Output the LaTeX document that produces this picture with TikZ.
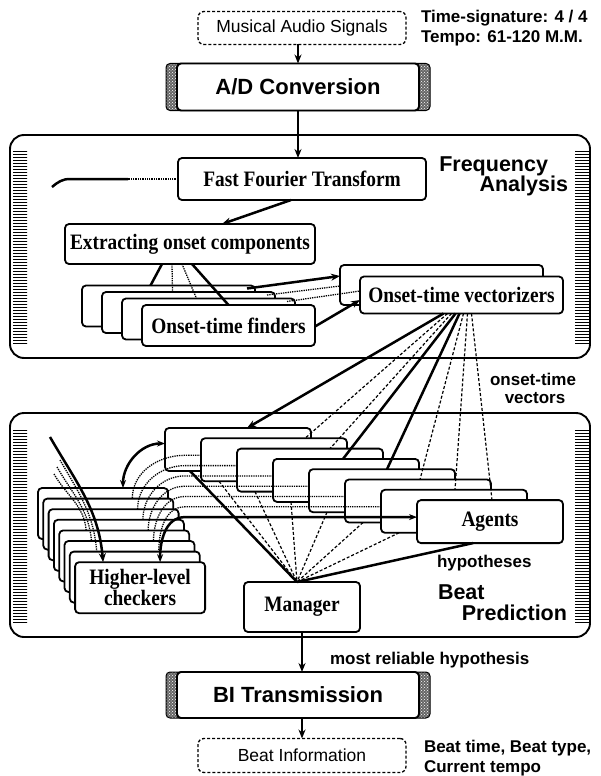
\documentclass[tikz,border=0pt]{standalone}
\usepackage{fontspec}
\setmainfont{Liberation Serif}
\setsansfont{Liberation Sans}
\newfontfamily\cserif[FakeStretch=0.88]{Liberation Serif}
\usetikzlibrary{arrows.meta,patterns,calc}
\newcommand\tsf{\cserif\bfseries\fontsize{22}{21}\selectfont}
\newcommand\hsf[1]{\sffamily\bfseries\fontsize{#1}{#1}\selectfont}
\newcommand\rsf[1]{\sffamily\fontsize{#1}{#1}\selectfont}
\begin{document}
\begin{tikzpicture}[x=1pt,y=-1pt,
  every node/.style={inner sep=0pt,outer sep=0pt},
  box/.style={draw,line width=1.8pt,rounded corners=4pt,fill=white,font=\tsf},
  dbox/.style={draw,line width=1.3pt,densely dashed,rounded corners=6pt,fill=white,font=\rsf{17.5}},
  hbox/.style={draw,line width=1.9pt,rounded corners=4pt,fill=white,font=\hsf{22}},
  hatchend/.style={draw,line width=1pt,rounded corners=4pt,preaction={fill=black!60},pattern=crosshatch dots,pattern color=white},
  panel/.style={draw,line width=1.9pt,rounded corners=14pt},
  band/.style={pattern=horizontal lines,pattern color=black},
  lab/.style={font=\hsf{17}},
  big/.style={font=\hsf{21.5}},
  conn/.style={line width=2.5pt},
  tip/.style={-{Stealth[length=9pt,width=7pt]}},
  arr/.style={line width=2.5pt,-{Stealth[length=9pt,width=7pt]}},
  darr/.style={line width=2.5pt,{Stealth[length=8pt,width=6pt]}-{Stealth[length=8pt,width=6pt]}},
  dotl/.style={line width=1.3pt,densely dotted},
  dashl/.style={line width=1.2pt,dash pattern=on 3pt off 2pt},
]
\useasboundingbox (0,0) rectangle (601,776);

% ---------- top ----------
\node[dbox,minimum width=208pt,minimum height=33pt] (ms) at (302,28) {Musical Audio Signals};
\node[lab,anchor=west] (ts) at (421,18.5) {Time-signature: 4 / 4};
\node[lab,anchor=west] (tp) at (421,38.5) {Tempo: 61-120 M.M.};
\node[hatchend,minimum width=264pt,minimum height=47pt] (adh) at (298,87) {};
\node[hbox,minimum width=242pt,minimum height=47pt] (ad) at (298,87) {A/D Conversion};
\draw[arr] (ms.south -| ad.north) -- (ad.north);

% ---------- frequency analysis panel ----------
\node[panel,minimum width=580pt,minimum height=223pt] (fa) at (300,246.5) {};
\fill[band] (13,150) rectangle (27,344);
\fill[band] (575,150) rectangle (589,344);
\node[big,anchor=east] (fq1) at (548,166) {Frequency};
\node[big,anchor=east] (fq2) at (568,186) {Analysis};

\node[box,minimum width=248pt,minimum height=42pt] (fft) at (302,179) {Fast Fourier Transform};
\node[box,minimum width=250pt,minimum height=40pt] (ext) at (190,244) {Extracting onset components};
\draw[arr] (ad.south) -- (ad.south |- fft.north);
\draw[arr] ([xshift=-11pt]fft.south) -- ([xshift=32pt]ext.north);
\draw[dotl] (fft.west) -- ++(-50,0) coordinate (hk1);
\coordinate (hk2) at (52,187);
\draw[conn] (hk1) -- (70,179) to[out=180,in=40] (hk2);

\foreach \j in {0,1,2}
  \node[box,minimum width=173pt,minimum height=41pt] (f\j) at ({168.5+20*\j},{306+6.5*\j}) {};
\node[box,minimum width=173pt,minimum height=41pt] (f3) at (228.5,325.5) {Onset-time finders};

\node[box,minimum width=203pt,minimum height=40pt] (v0) at (441.5,285) {};
\node[box,minimum width=203pt,minimum height=37pt] (v1) at (461.5,295) {Onset-time vectorizers};

\draw[conn] ([xshift=-28pt]ext.south) -- ([xshift=-18pt]f0.north);
\draw[dotl] ([xshift=-18pt]ext.south) -- ([xshift=-16pt]f1.north);
\draw[dotl] ([xshift=-8pt]ext.south) -- ([xshift=-12pt]f2.north);
\draw[conn] ([xshift=2pt]ext.south) -- (f3.north);

\draw[conn,tip] ([xshift=-8pt,yshift=-3pt]f0.north east) -- ([yshift=9pt]v0.west);
\draw[dotl] ([xshift=-8pt,yshift=-3pt]f1.north east) -- ([yshift=-1pt]v0.west);
\draw[dotl] ([xshift=-8pt,yshift=-3pt]f2.north east) -- ([yshift=4pt]v1.west);
\draw[conn,tip] ([yshift=-1pt]f3.east) -- ([yshift=-5pt]v1.west);

% ---------- beat prediction panel ----------
\node[panel,minimum width=580pt,minimum height=224pt] (bp) at (300,525) {};
\fill[band] (13,428) rectangle (27,622);
\fill[band] (575,428) rectangle (589,622);
\node[lab] (ov1) at (533,379) {onset-time};
\node[lab] (ov2) at (535,398) {vectors};
\node[lab,anchor=west] (hy) at (437,563) {hypotheses};
\node[big,anchor=west] (bp1) at (438,592) {Beat};
\node[big,anchor=east] (bp2) at (567,613) {Prediction};

\foreach \i in {0,...,6}
  \node[box,minimum width=146pt,minimum height=43pt] (a\i) at ({238+36*\i},{449.5+10.3*\i}) {};
\node[box,minimum width=146pt,minimum height=43pt] (a7) at (490,521.6) {Agents};

\node[box,minimum width=116pt,minimum height=50pt] (mg) at (302,607) {Manager};

\foreach \j in {0,...,6}
  \node[box,minimum width=130pt,minimum height=51pt] (c\j) at ({103+5.3*\j},{513.5+10.6*\j}) {};
\node[box,minimum width=130pt,minimum height=51pt,align=center] (c7) at (140.1,587.7) {Higher-level\\checkers};

% onset-time vectors
\draw[arr] ([xshift=-18pt]v1.south) -- ([xshift=82pt]a0.north west);
\draw[dashl] ([xshift=-14pt]v1.south) -- ([xshift=104pt]a1.north west);
\draw[dashl] ([xshift=-10pt]v1.south) -- ([xshift=93pt]a2.north west);
\draw[conn] ([xshift=-6pt]v1.south) -- ([xshift=70pt]a3.north west);
\draw[conn] ([xshift=-2pt]v1.south) -- ([xshift=78pt]a4.north west);
\draw[dashl] ([xshift=2pt]v1.south) -- ([xshift=75pt]a5.north west);
\draw[dashl] ([xshift=6pt]v1.south) -- ([xshift=74pt]a6.north west);
\draw[dashl] ([xshift=10pt]v1.south) -- ([xshift=75pt]a7.north west);

% agents -> manager
\coordinate (mc) at ([xshift=-5pt]mg.north);
\draw[conn] ([xshift=25pt]a0.south west) -- (mc);
\foreach \i in {1,...,6}
  \draw[dashl] ([xshift=18pt]a\i.south west) -- (mc);
\draw[conn] ([xshift=56pt]a7.south west) -- (mc);

% agents <-> higher-level checkers
\draw[darr] ([yshift=6pt]a0.west) to[out=180,in=90] ([xshift=20pt]c0.north);
\foreach \i in {1,...,6}
  \draw[dotl] ([yshift=4.5pt]a\i.west) -- ++({-(36*\i-20)},0) to[out=180,in=90] ([xshift=24pt]c\i.north);
\draw[darr] ([yshift=4.5pt]a7.west) -- ++(-232,0) to[out=180,in=90] ([xshift=20pt]c7.north);

% frequency input to checkers
\coordinate (lf) at (50,437);
\draw[arr] (lf) to[out=-60,in=95] ([xshift=-37pt]c7.north);
\foreach \k/\m in {1/6,2/5,3/4}
  \draw[dotl] ($(lf)+(13-3*\k,16+7*\k)$) to[out=-60,in=95] ([xshift=-38pt]c\m.north);

% ---------- bottom ----------
\node[hatchend,minimum width=264pt,minimum height=46pt] (bih) at (298,695) {};
\node[hbox,minimum width=242pt,minimum height=46pt] (bi) at (298,695) {BI Transmission};
\node[dbox,minimum width=208pt,minimum height=34pt] (bt) at (302,755.5) {Beat Information};
\draw[arr] (mg.south) -- (mg.south |- bi.north);
\draw[arr] (mg.south |- bi.south) -- (mg.south |- bt.north);
\node[lab,anchor=west] (mr) at (330,660) {most reliable hypothesis};
\node[lab,anchor=west] (b1) at (424,748) {Beat time, Beat type,};
\node[lab,anchor=west] (b2) at (424,768) {Current tempo};
\end{tikzpicture}
\end{document}
